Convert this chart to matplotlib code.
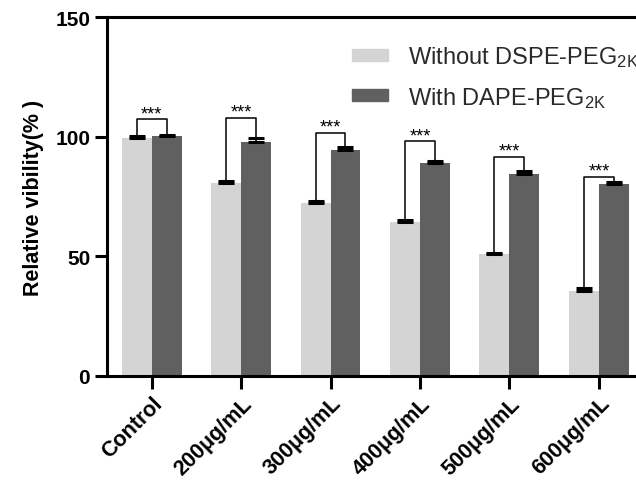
import numpy as np
import matplotlib
matplotlib.use("Agg")
import matplotlib.pyplot as plt
from matplotlib.patches import Patch

plt.rcParams['font.family'] = ['Liberation Sans', 'DejaVu Sans']
plt.rcParams['mathtext.fontset'] = 'custom'
plt.rcParams['mathtext.rm'] = 'Liberation Sans'
plt.rcParams['mathtext.it'] = 'Liberation Sans'

groups = ['Control', '200μg/mL', '300μg/mL', '400μg/mL', '500μg/mL', '600μg/mL']
without_peg = [99.5, 80.5, 72.5, 64.3, 50.8, 35.5]
without_err = [0.6, 0.8, 0.8, 1.0, 0.8, 1.4]
with_peg = [100.2, 98.0, 94.3, 89.2, 84.6, 80.4]
with_err = [0.4, 1.5, 1.2, 0.6, 1.2, 0.8]
bracket_top = [107.5, 108.0, 101.7, 98.3, 91.7, 83.3]
sig_text = ['***'] * 6

light = '#d4d4d4'
dark = '#606060'
width = 0.335

fig = plt.figure(figsize=(6.36, 4.85), dpi=100)
ax = fig.add_axes([0.168, 0.2227, 0.844, 0.740])

x = np.arange(len(groups))
xl = x - width / 2
xd = x + width / 2

ax.bar(xl, without_peg, width, color=light, zorder=2)
ax.bar(xd, with_peg, width, color=dark, zorder=2)

# upper error bars only
ax.errorbar(xl, without_peg, yerr=[np.zeros(6), without_err], fmt='none',
            ecolor='black', elinewidth=1.2, capsize=6, capthick=2.2, zorder=3)
ax.errorbar(xd, with_peg, yerr=[np.zeros(6), with_err], fmt='none',
            ecolor='black', elinewidth=1.2, capsize=6, capthick=2.2, zorder=3)

# significance brackets
for i in range(len(groups)):
    y0 = without_peg[i] + without_err[i]
    y1 = with_peg[i] + with_err[i]
    top = bracket_top[i]
    ax.plot([xl[i], xl[i], xd[i], xd[i]], [y0, top, top, y1],
            color='black', lw=1.1, zorder=4)
    ax.text(x[i], top + 0.3, sig_text[i], ha='center', va='baseline',
            fontsize=13, color='black')

ax.set_xlim(-0.5, 5.5)
ax.set_ylim(0, 150)
ax.set_yticks([0, 50, 100, 150])
ax.set_xticks(x)
ax.set_xticklabels(groups, rotation=45, ha='right', rotation_mode='anchor',
                   fontsize=15.5, fontweight='bold')
for lab in ax.get_yticklabels():
    lab.set_fontsize(15)
    lab.set_fontweight('bold')
ax.set_ylabel('Relative vibility(% )', fontsize=15.5, fontweight='bold', labelpad=8)

for s in ax.spines.values():
    s.set_linewidth(2.2)
ax.tick_params(axis='both', width=2.2, length=9, pad=3)

handles = [Patch(color=light), Patch(color=dark)]
labels = ['Without DSPE-PEG$_{2K}$', 'With DAPE-PEG$_{2K}$']
leg = ax.legend(handles, labels, loc='upper left', bbox_to_anchor=(0.44, 0.95),
                frameon=False, fontsize=17, handlelength=1.5, handleheight=0.42,
                handletextpad=0.85, labelspacing=0.65, borderaxespad=0)
for t in leg.get_texts():
    t.set_color('#2a2a2a')

fig.savefig('out.png', dpi=100)
